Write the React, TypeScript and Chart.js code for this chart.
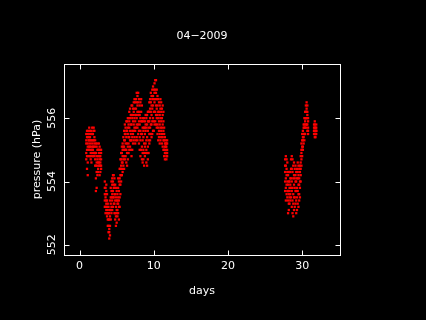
import React, { useEffect, useRef } from "react";
import { Chart, registerables } from "chart.js";

Chart.register(...registerables);

const chartTitle = "04\u22122009";
const xAxisLabel = "days";
const yAxisLabel = "pressure (hPa)";
const xTicks = [0, 10, 20, 30];
const yTicks = [552, 554, 556];
const xRange = [-2.1, 35.1];
const yRange = [551.68, 557.71];

const days = [
  0.9, 1.0, 1.1, 1.2, 1.3, 1.4, 1.5, 1.6, 1.7, 1.8, 1.9, 2.0, 2.1, 2.2, 2.3, 2.4, 2.5, 2.6, 2.7, 2.8, 2.9,
  3.4, 3.5, 3.6, 3.7, 3.8, 3.9, 4.0, 4.1, 4.2, 4.3, 4.4, 4.5, 4.6, 4.7, 4.8, 4.9, 5.0, 5.1, 5.2, 5.3, 5.4,
  5.5, 5.6, 5.7, 5.8, 5.9, 6.0, 6.1, 6.2, 6.3, 6.4, 6.5, 6.6, 6.7, 6.8, 6.9, 7.0, 7.1, 7.2, 7.3, 7.4, 7.5,
  7.6, 7.7, 7.8, 7.9, 8.0, 8.1, 8.2, 8.3, 8.4, 8.5, 8.6, 8.7, 8.8, 8.9, 9.0, 9.1, 9.2, 9.3, 9.4, 9.5, 9.6,
  9.7, 9.8, 9.9, 10.0, 10.1, 10.2, 10.3, 10.4, 10.5, 10.6, 10.7, 10.8, 10.9, 11.0, 11.1, 11.2, 11.3, 11.4,
  11.5, 11.6, 11.7, 11.8,
  27.7, 27.8, 27.9, 28.0, 28.1, 28.2, 28.3, 28.4, 28.5, 28.6, 28.7, 28.8, 28.9, 29.0, 29.1, 29.2, 29.3,
  29.4, 29.5, 29.6, 29.7, 29.8, 29.9, 30.0, 30.1, 30.2, 30.3, 30.4, 30.5, 30.6, 30.7, 30.8,
  31.6, 31.7, 31.8, 31.9,
];

const readings = [
  [554.7, 554.9, 555.2, 555.3, 555.5],
  [554.4, 554.8, 555.0, 555.4, 555.6],
  [554.2, 554.6, 555.1, 555.2, 555.5],
  [554.8, 555.0, 555.3, 555.4, 555.6],
  [555.0, 555.1, 555.3, 555.5, 555.7],
  [554.8, 555.1, 555.2, 555.4, 555.6],
  [554.7, 554.9, 555.0, 555.3, 555.5],
  [554.6, 554.8, 555.1, 555.3, 555.6],
  [554.9, 555.0, 555.2, 555.5, 555.7],
  [554.8, 555.0, 555.1, 555.3, 555.5],
  [554.9, 555.1, 555.3, 555.6, 555.7],
  [554.8, 554.9, 555.2, 555.4, 555.6],
  [554.5, 554.7, 554.9, 555.1, 555.3],
  [553.7, 554.1, 554.5, 554.9, 555.2],
  [553.8, 554.3, 554.6, 554.8, 555.1],
  [554.2, 554.5, 554.7, 555.0, 555.2],
  [554.3, 554.4, 554.6, 554.8, 555.0],
  [554.5, 554.6, 554.9, 555.0, 555.2],
  [554.2, 554.5, 554.7, 554.8, 555.1],
  [554.3, 554.5, 554.6, 554.8, 555.0],
  [554.4, 554.5, 554.7, 554.9, 555.0],
  [553.2, 553.4, 553.6, 553.8, 554.0],
  [553.0, 553.2, 553.5, 553.6, 553.8],
  [553.1, 553.3, 553.4, 553.7, 553.9],
  [552.9, 553.0, 553.2, 553.4, 553.6],
  [552.6, 552.8, 553.0, 553.1, 553.3],
  [552.4, 552.6, 552.8, 553.0, 553.2],
  [552.2, 552.4, 552.5, 552.8, 553.0],
  [552.3, 552.6, 552.9, 553.1, 553.4],
  [552.8, 553.1, 553.3, 553.5, 553.8],
  [553.0, 553.2, 553.5, 553.7, 554.0],
  [553.1, 553.4, 553.6, 553.9, 554.1],
  [553.2, 553.5, 553.7, 554.0, 554.2],
  [553.3, 553.5, 553.8, 553.9, 554.2],
  [553.0, 553.3, 553.6, 553.8, 554.1],
  [552.8, 553.0, 553.4, 553.6, 553.9],
  [552.6, 552.9, 553.2, 553.5, 553.8],
  [552.7, 553.0, 553.1, 553.4, 553.7],
  [552.9, 553.1, 553.3, 553.4, 553.6],
  [553.0, 553.3, 553.5, 553.8, 554.1],
  [552.8, 553.2, 553.4, 553.7, 554.0],
  [553.2, 553.5, 553.9, 554.1, 554.4],
  [553.6, 553.9, 554.2, 554.4, 554.7],
  [554.0, 554.2, 554.5, 554.7, 554.9],
  [554.2, 554.4, 554.6, 554.9, 555.1],
  [554.3, 554.6, 554.8, 555.0, 555.2],
  [554.5, 554.7, 555.0, 555.1, 555.4],
  [554.4, 554.8, 555.1, 555.3, 555.6],
  [554.7, 555.0, 555.3, 555.5, 555.8],
  [554.8, 555.0, 555.2, 555.5, 555.7],
  [554.6, 555.0, 555.4, 555.6, 555.9],
  [554.5, 554.9, 555.2, 555.6, 555.9],
  [554.7, 555.1, 555.5, 555.7, 556.0],
  [554.9, 555.2, 555.4, 555.8, 556.0],
  [555.0, 555.4, 555.7, 555.9, 556.2],
  [555.1, 555.3, 555.6, 556.0, 556.3],
  [555.0, 555.3, 555.5, 555.8, 556.1],
  [554.8, 555.3, 555.8, 556.1, 556.4],
  [555.0, 555.4, 555.6, 556.0, 556.4],
  [555.2, 555.5, 555.9, 556.1, 556.3],
  [555.3, 555.6, 555.8, 556.2, 556.5],
  [555.4, 555.7, 556.0, 556.3, 556.6],
  [555.2, 555.6, 555.9, 556.1, 556.5],
  [555.3, 555.7, 556.1, 556.3, 556.6],
  [555.4, 555.8, 556.0, 556.5, 556.8],
  [555.3, 555.7, 556.2, 556.4, 556.7],
  [555.5, 555.8, 556.1, 556.5, 556.8],
  [555.2, 555.6, 555.9, 556.2, 556.6],
  [555.0, 555.4, 555.8, 556.1, 556.4],
  [554.8, 555.3, 555.6, 556.0, 556.5],
  [555.0, 555.5, 555.9, 556.2, 556.6],
  [554.7, 555.1, 555.5, 555.9, 556.4],
  [554.6, 554.9, 555.3, 555.7, 556.0],
  [554.7, 555.0, 555.4, 555.6, 555.9],
  [554.5, 554.9, 555.2, 555.7, 556.0],
  [554.8, 555.1, 555.5, 555.7, 555.9],
  [554.9, 555.2, 555.6, 555.8, 556.1],
  [554.6, 555.0, 555.3, 555.7, 556.0],
  [554.5, 554.9, 555.4, 555.8, 556.1],
  [554.7, 555.1, 555.6, 555.9, 556.2],
  [554.9, 555.3, 555.7, 555.9, 556.2],
  [555.2, 555.5, 555.9, 556.2, 556.5],
  [555.3, 555.7, 556.0, 556.3, 556.6],
  [555.5, 555.8, 556.2, 556.5, 556.8],
  [555.4, 555.8, 556.1, 556.4, 556.7],
  [555.5, 555.9, 556.3, 556.6, 556.9],
  [555.6, 556.0, 556.4, 556.7, 557.0],
  [555.6, 555.9, 556.2, 556.6, 556.9],
  [555.8, 556.2, 556.5, 556.8, 557.1],
  [555.9, 556.2, 556.6, 556.9, 557.2],
  [555.8, 556.1, 556.4, 556.8, 557.2],
  [555.7, 556.0, 556.3, 556.6, 556.9],
  [555.5, 555.8, 556.1, 556.4, 556.7],
  [555.3, 555.7, 556.0, 556.2, 556.6],
  [555.4, 555.6, 555.9, 556.2, 556.5],
  [555.2, 555.5, 555.8, 556.1, 556.4],
  [555.3, 555.7, 556.0, 556.3, 556.6],
  [555.4, 555.6, 555.9, 556.2, 556.5],
  [555.2, 555.5, 555.7, 556.0, 556.3],
  [555.1, 555.4, 555.8, 556.1, 556.4],
  [555.0, 555.3, 555.6, 555.9, 556.2],
  [554.8, 555.0, 555.3, 555.5, 555.7],
  [554.7, 554.9, 555.1, 555.2, 555.4],
  [554.9, 555.0, 555.1, 555.2, 555.3],
  [554.7, 554.8, 554.9, 555.1, 555.2],
  [554.8, 554.9, 555.0, 555.2, 555.3],
  [553.7, 554.0, 554.3, 554.5, 554.7],
  [553.4, 553.8, 554.1, 554.5, 554.8],
  [553.6, 553.9, 554.2, 554.4, 554.7],
  [553.5, 553.7, 554.0, 554.3, 554.6],
  [553.0, 553.4, 553.7, 553.9, 554.2],
  [553.1, 553.3, 553.6, 554.0, 554.3],
  [553.3, 553.5, 553.7, 553.8, 554.0],
  [553.4, 553.6, 553.9, 554.1, 554.3],
  [553.5, 553.8, 554.1, 554.4, 554.7],
  [553.2, 553.7, 554.0, 554.4, 554.8],
  [553.0, 553.4, 553.8, 554.3, 554.7],
  [552.9, 553.3, 553.6, 554.1, 554.5],
  [553.1, 553.5, 553.9, 554.2, 554.6],
  [553.2, 553.5, 553.8, 554.1, 554.4],
  [553.3, 553.7, 554.0, 554.2, 554.5],
  [553.0, 553.4, 553.7, 554.0, 554.3],
  [553.1, 553.5, 553.8, 554.1, 554.4],
  [553.3, 553.7, 554.1, 554.3, 554.6],
  [553.2, 553.6, 553.9, 554.2, 554.5],
  [553.4, 553.6, 553.9, 554.1, 554.4],
  [553.5, 553.8, 554.0, 554.3, 554.5],
  [554.0, 554.2, 554.4, 554.6, 554.8],
  [554.5, 554.7, 554.9, 555.0, 555.2],
  [554.8, 555.0, 555.1, 555.3, 555.5],
  [555.0, 555.1, 555.3, 555.4, 555.6],
  [555.2, 555.4, 555.5, 555.7, 555.8],
  [555.3, 555.5, 555.7, 555.8, 556.0],
  [555.5, 555.7, 555.9, 556.0, 556.2],
  [555.7, 555.8, 556.0, 556.2, 556.4],
  [555.8, 556.0, 556.2, 556.3, 556.5],
  [555.6, 555.8, 556.1, 556.2, 556.4],
  [555.5, 555.6, 555.7, 555.9, 556.0],
  [555.5, 555.6, 555.6, 555.7, 555.8],
  [555.4, 555.5, 555.7, 555.8, 555.9],
  [555.4, 555.5, 555.5, 555.6, 555.7],
  [555.5, 555.6, 555.6, 555.7, 555.8],
];

const FONT = "11px 'DejaVu Sans'";

export default function App() {
  const ref = useRef<HTMLCanvasElement>(null);

  useEffect(() => {
    document.body.style.margin = "0";
    document.body.style.background = "#000";
    const canvas = ref.current;
    if (!canvas) return;

    const points: { x: number; y: number }[] = [];
    days.forEach((d, i) => {
      readings[i].forEach((p) => points.push({ x: d, y: p }));
    });

    const framePlugin = {
      id: "frame",
      beforeDraw(chart: any) {
        const { ctx, width, height } = chart;
        ctx.save();
        ctx.fillStyle = "#000";
        ctx.fillRect(0, 0, width, height);
        ctx.restore();
      },
      afterDraw(chart: any) {
        const { ctx, chartArea: a } = chart;
        const xs = chart.scales.x;
        const ys = chart.scales.y;
        const L = Math.round(a.left);
        const R = Math.round(a.right);
        const T = Math.round(a.top);
        const B = Math.round(a.bottom);
        ctx.save();
        ctx.strokeStyle = "#fff";
        ctx.lineWidth = 1;
        ctx.strokeRect(L + 0.5, T + 0.5, R - L, B - T);
        const tl = 5;
        ctx.beginPath();
        xTicks.forEach((v) => {
          const px = Math.round(xs.getPixelForValue(v)) + 0.5;
          ctx.moveTo(px, B + 0.5);
          ctx.lineTo(px, B + 0.5 - tl);
          ctx.moveTo(px, T + 0.5);
          ctx.lineTo(px, T + 0.5 + tl);
        });
        yTicks.forEach((v) => {
          const py = Math.round(ys.getPixelForValue(v)) + 0.5;
          ctx.moveTo(L + 0.5, py);
          ctx.lineTo(L + 0.5 + tl, py);
          ctx.moveTo(R + 0.5, py);
          ctx.lineTo(R + 0.5 - tl, py);
        });
        ctx.stroke();

        ctx.fillStyle = "#fff";
        ctx.font = FONT;
        ctx.textAlign = "center";
        ctx.textBaseline = "middle";
        xTicks.forEach((v) => {
          ctx.fillText(String(v), xs.getPixelForValue(v), 266);
        });
        yTicks.forEach((v) => {
          ctx.save();
          ctx.translate(52.5, ys.getPixelForValue(v));
          ctx.rotate(-Math.PI / 2);
          ctx.fillText(String(v), 0, 0);
          ctx.restore();
        });
        const cx = (a.left + a.right) / 2;
        const cy = (a.top + a.bottom) / 2;
        ctx.fillText(chartTitle, cx, 36.5);
        ctx.fillText(xAxisLabel, cx, 291);
        ctx.save();
        ctx.translate(37, cy);
        ctx.rotate(-Math.PI / 2);
        ctx.fillText(yAxisLabel, 0, 0);
        ctx.restore();
        ctx.restore();
      },
    };

    const chart = new Chart(canvas, {
      type: "scatter",
      data: {
        datasets: [
          {
            data: points,
            backgroundColor: "#ff0000",
            borderWidth: 0,
            pointStyle: "rect",
            pointRadius: 1.6,
            pointHoverRadius: 1.6,
          },
        ],
      },
      options: {
        responsive: false,
        animation: false,
        events: [],
        layout: { padding: { left: 64, top: 64, right: 86, bottom: 65 } },
        scales: {
          x: { type: "linear", min: xRange[0], max: xRange[1], display: false },
          y: { type: "linear", min: yRange[0], max: yRange[1], display: false },
        },
        plugins: {
          legend: { display: false },
          tooltip: { enabled: false },
          title: { display: false },
        },
      },
      plugins: [framePlugin],
    });

    return () => chart.destroy();
  }, []);

  return <canvas ref={ref} width={426} height={320} style={{ display: "block" }} />;
}
